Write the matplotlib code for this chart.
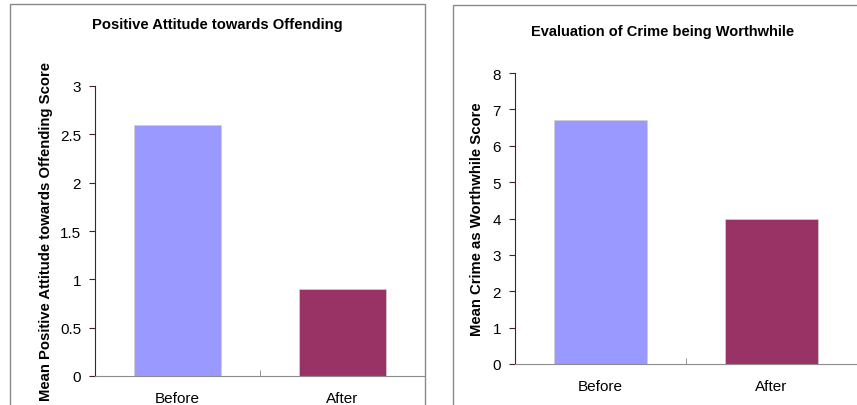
import matplotlib.pyplot as plt
from matplotlib.patches import Rectangle

plt.rcParams["font.family"] = ["Liberation Sans", "DejaVu Sans"]

categories = ["Before", "After"]
attitude_scores = [2.6, 0.9]
worthwhile_scores = [6.7, 4.0]
attitude_ticks = [0, 0.5, 1, 1.5, 2, 2.5, 3]
attitude_tick_labels = ["0", "0.5", "1", "1.5", "2", "2.5", "3"]
worthwhile_ticks = [0, 1, 2, 3, 4, 5, 6, 7, 8]

BAR_COLORS = ["#9999ff", "#993366"]
W, H = 857, 406


def px_rect(x0, y0, x1, y1):
    # pixel box (top-left origin) -> figure fraction [left, bottom, width, height]
    return [x0 / W, 1 - y1 / H, (x1 - x0) / W, (y1 - y0) / H]


def style_axes(ax, ticks, labels, ymax):
    ax.set_xlim(-0.5, 1.5)
    ax.set_ylim(0, ymax)
    ax.set_yticks(ticks)
    ax.set_yticklabels(labels, fontsize=11)
    ax.set_xticks([0, 1])
    ax.set_xticklabels(categories, fontsize=11)
    ax.set_xticks([0.5], minor=True)
    ax.tick_params(axis="x", which="major", length=0, pad=11)
    ax.tick_params(axis="x", which="minor", length=4, color="#808080", direction="in")
    ax.tick_params(axis="y", length=4, color="#4a1a3a", pad=6)
    for side in ("top", "right"):
        ax.spines[side].set_visible(False)
    ax.spines["left"].set_color("#4a1a3a")
    ax.spines["left"].set_linewidth(0.8)
    ax.spines["bottom"].set_color("#8c8c8c")
    ax.spines["bottom"].set_linewidth(0.8)


fig = plt.figure(figsize=(W / 100, H / 100), dpi=100)

# panel frames
fig.patches.append(Rectangle((10 / W, -0.1), 415 / W, 1.1 - 5 / H,
                             transform=fig.transFigure, fill=False,
                             edgecolor="#8a8a8a", linewidth=1))
fig.patches.append(Rectangle((453 / W, -0.1), 420 / W, 1.1 - 6 / H,
                             transform=fig.transFigure, fill=False,
                             edgecolor="#8a8a8a", linewidth=1))

ax1 = fig.add_axes(px_rect(95, 87, 425, 377))
ax1.bar(range(len(categories)), attitude_scores, width=0.53,
        color=BAR_COLORS, edgecolor="#d0d0d0", linewidth=0.5)
style_axes(ax1, attitude_ticks, attitude_tick_labels, 3)
ax1.set_ylabel("Mean Positive Attitude towards Offending Score",
               fontsize=10.7, fontweight="bold")
ax1.yaxis.set_label_coords(-0.127, 0.503)
fig.text(217 / W, 1 - 25 / H, "Positive Attitude towards Offending",
         ha="center", va="center", fontsize=10.6, fontweight="bold")

ax2 = fig.add_axes(px_rect(515, 74, 857, 365))
ax2.bar(range(len(categories)), worthwhile_scores, width=0.54,
        color=BAR_COLORS, edgecolor="#d0d0d0", linewidth=0.5)
style_axes(ax2, worthwhile_ticks, [str(t) for t in worthwhile_ticks], 8)
ax2.set_ylabel("Mean Crime as Worthwhile Score",
               fontsize=10.7, fontweight="bold")
ax2.yaxis.set_label_coords(-0.09, 0.50)
fig.text(663 / W, 1 - 32 / H, "Evaluation of Crime being Worthwhile",
         ha="center", va="center", fontsize=10.5, fontweight="bold")

fig.savefig("out.png", dpi=100)
